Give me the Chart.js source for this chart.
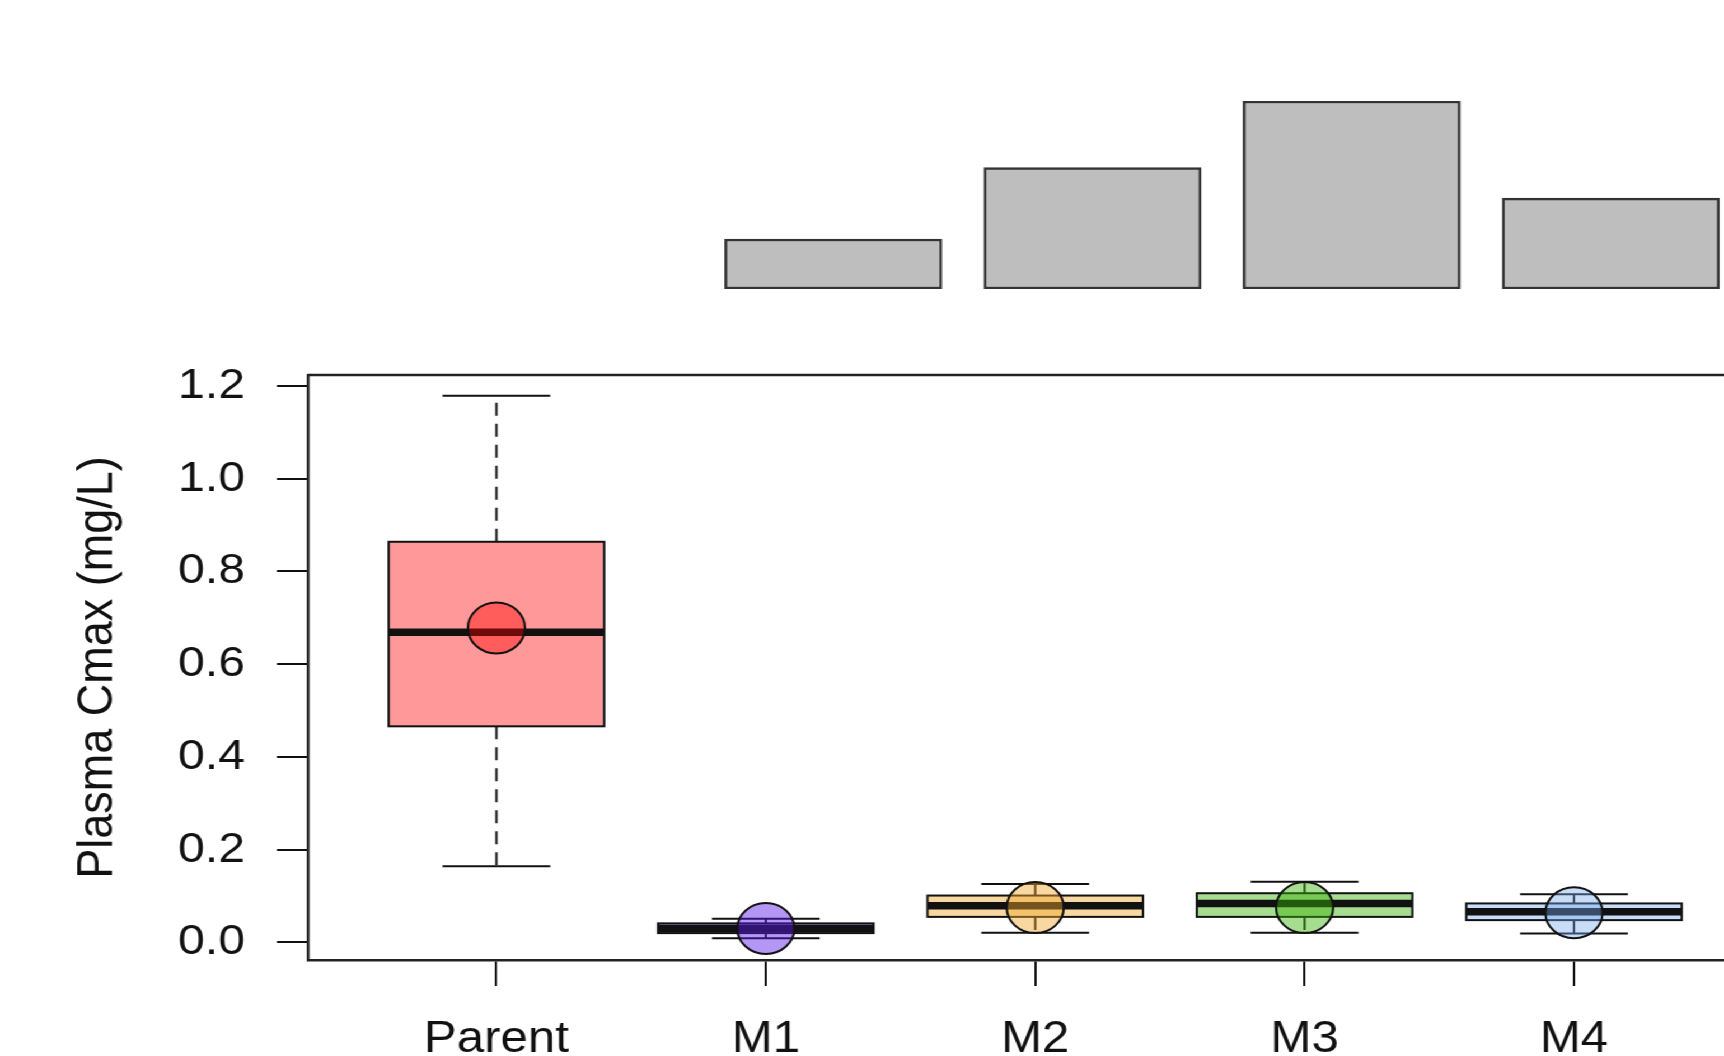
<!DOCTYPE html>
<html>
<head>
<meta charset="utf-8">
<title>Plasma Cmax</title>
<script src="https://cdn.jsdelivr.net/npm/chart.js@4.4.1/dist/chart.umd.min.js"></script>
<style>
  html, body { margin: 0; padding: 0; background: #fff; overflow: hidden; }
  /* the original figure is stretched sideways, so the canvases are too */
  .wrap { position: relative; width: 1540px; height: 1056px; transform: scaleX(1.1195); transform-origin: 0 0; }
  #boxChart, #barChart { position: absolute; left: 0; top: 0; }
</style>
</head>
<body>
<div class="wrap">
  <canvas id="boxChart" width="1540" height="1056"></canvas>
  <canvas id="barChart" width="1540" height="300"></canvas>
</div>
<script>
// boxplot data
const categories = ['Parent', 'M1', 'M2', 'M3', 'M4'];
const whiskerLow = [0.164, 0.009, 0.021, 0.021, 0.019];
const q1 = [0.466, 0.020, 0.055, 0.055, 0.048];
const medians = [0.669, 0.030, 0.079, 0.084, 0.066];
const q3 = [0.864, 0.041, 0.101, 0.106, 0.084];
const whiskerHigh = [1.179, 0.051, 0.126, 0.131, 0.104];
const means = [0.678, 0.030, 0.075, 0.075, 0.064];
const yTicks = [0, 0.2, 0.4, 0.6, 0.8, 1.0, 1.2];

// top bars (no axis shown, relative heights)
const barLabels = ['M1', 'M2', 'M3', 'M4'];
const barValues = [0.266, 0.646, 1.0, 0.483];

// colours per group
const groupFills = ['rgba(255,0,0,0.4)', 'rgba(88,22,233,0.45)', 'rgba(239,168,44,0.45)',
    'rgba(60,180,10,0.45)', 'rgba(117,167,237,0.4)'];

Chart.defaults.font.family = '"Liberation Sans", Arial, Helvetica, sans-serif';
Chart.defaults.color = '#111';

// draws boxes, whiskers and medians under the mean points
const boxPlugin = {
    id: 'boxes',
    beforeDatasetsDraw(chart) {
        const { ctx, scales: { x, y } } = chart;
        ctx.save();
        categories.forEach((name, i) => {
            const c = i + 1;
            const xc = x.getPixelForValue(c);
            const xl = x.getPixelForValue(c - 0.4);
            const xr = x.getPixelForValue(c + 0.4);
            const sl = x.getPixelForValue(c - 0.2);
            const sr = x.getPixelForValue(c + 0.2);
            const top = y.getPixelForValue(q3[i]);
            const bot = y.getPixelForValue(q1[i]);

            ctx.strokeStyle = '#111';
            ctx.lineWidth = 2;
            ctx.setLineDash([13, 8]);
            ctx.beginPath();
            ctx.moveTo(xc, top);
            ctx.lineTo(xc, y.getPixelForValue(whiskerHigh[i]));
            ctx.moveTo(xc, bot);
            ctx.lineTo(xc, y.getPixelForValue(whiskerLow[i]));
            ctx.stroke();
            ctx.setLineDash([]);

            // staples
            ctx.beginPath();
            ctx.moveTo(sl, y.getPixelForValue(whiskerHigh[i]));
            ctx.lineTo(sr, y.getPixelForValue(whiskerHigh[i]));
            ctx.moveTo(sl, y.getPixelForValue(whiskerLow[i]));
            ctx.lineTo(sr, y.getPixelForValue(whiskerLow[i]));
            ctx.stroke();

            ctx.fillStyle = '#fff';
            ctx.fillRect(xl, top, xr - xl, bot - top);
            ctx.fillStyle = groupFills[i];
            ctx.fillRect(xl, top, xr - xl, bot - top);
            ctx.strokeRect(xl, top, xr - xl, bot - top);

            // median
            const ym = y.getPixelForValue(medians[i]);
            ctx.lineWidth = 7.5;
            ctx.beginPath();
            ctx.moveTo(xl, ym);
            ctx.lineTo(xr, ym);
            ctx.stroke();
        });
        ctx.restore();
    },
    afterDraw(chart) {
        // top edge of the frame
        const { ctx, chartArea } = chart;
        ctx.save();
        ctx.strokeStyle = '#222';
        ctx.lineWidth = 2.5;
        ctx.beginPath();
        ctx.moveTo(chartArea.left, chartArea.top);
        ctx.lineTo(chartArea.right, chartArea.top);
        ctx.stroke();
        ctx.restore();
    }
};

new Chart(document.getElementById('boxChart'), {
    type: 'scatter',
    data: {
        datasets: [{
            label: 'Mean',
            data: means.map((m, i) => ({ x: i + 1, y: m })),
            pointRadius: 25.5,
            pointBackgroundColor: groupFills,
            pointBorderColor: '#111',
            pointBorderWidth: 2
        }]
    },
    options: {
        responsive: false,
        animation: false,
        layout: { autoPadding: false, padding: { top: 375, right: 0, bottom: 0, left: 0 } },
        scales: {
            x: {
                type: 'linear',
                min: 0.3,
                max: 5.557,
                afterBuildTicks: (scale) => { scale.ticks = categories.map((c, i) => ({ value: i + 1 })); },
                afterFit: (scale) => {
                    scale.height = 96;
                    scale.paddingLeft = 0;
                    scale.paddingRight = 0;
                },
                ticks: {
                    callback: (v) => categories[v - 1],
                    font: { size: 44 },
                    color: '#111',
                    padding: 27,
                    maxRotation: 0,
                    autoSkip: false
                },
                grid: { drawOnChartArea: false, drawTicks: true, tickLength: 26, color: '#111', lineWidth: 2 },
                border: { display: true, color: '#222', width: 2.5 }
            },
            y: {
                min: -0.038,
                max: 1.2237,
                afterBuildTicks: (scale) => { scale.ticks = yTicks.map(v => ({ value: v })); },
                afterFit: (scale) => { scale.width = 275; },
                ticks: {
                    callback: (v) => v.toFixed(1),
                    font: { size: 43 },
                    color: '#111',
                    padding: 28.5
                },
                grid: { drawOnChartArea: false, drawTicks: true, tickLength: 27.7, color: '#111', lineWidth: 2 },
                border: { display: true, color: '#222', width: 2.5 },
                title: {
                    display: true,
                    text: 'Plasma Cmax (mg/L)',
                    font: { size: 45 },
                    color: '#111',
                    padding: { top: 60.5, bottom: 0 }
                }
            }
        },
        plugins: { legend: { display: false }, tooltip: { enabled: false } }
    },
    plugins: [boxPlugin]
});

new Chart(document.getElementById('barChart'), {
    type: 'bar',
    data: {
        datasets: [{
            label: 'Relative',
            data: barValues.map((v, i) => ({ x: i + 1, y: v })),
            backgroundColor: '#bebebe',
            borderColor: '#333',
            borderWidth: 2.5,
            borderSkipped: false,
            barThickness: 194
        }]
    },
    options: {
        responsive: false,
        animation: false,
        layout: { autoPadding: false, padding: { top: 101, bottom: 11, left: 0, right: 0 } },
        scales: {
            x: { type: 'linear', offset: false, min: -2.2153, max: 4.4367, display: false },
            y: { min: 0, max: 1, display: false }
        },
        plugins: { legend: { display: false }, tooltip: { enabled: false } }
    }
});
</script>
</body>
</html>
